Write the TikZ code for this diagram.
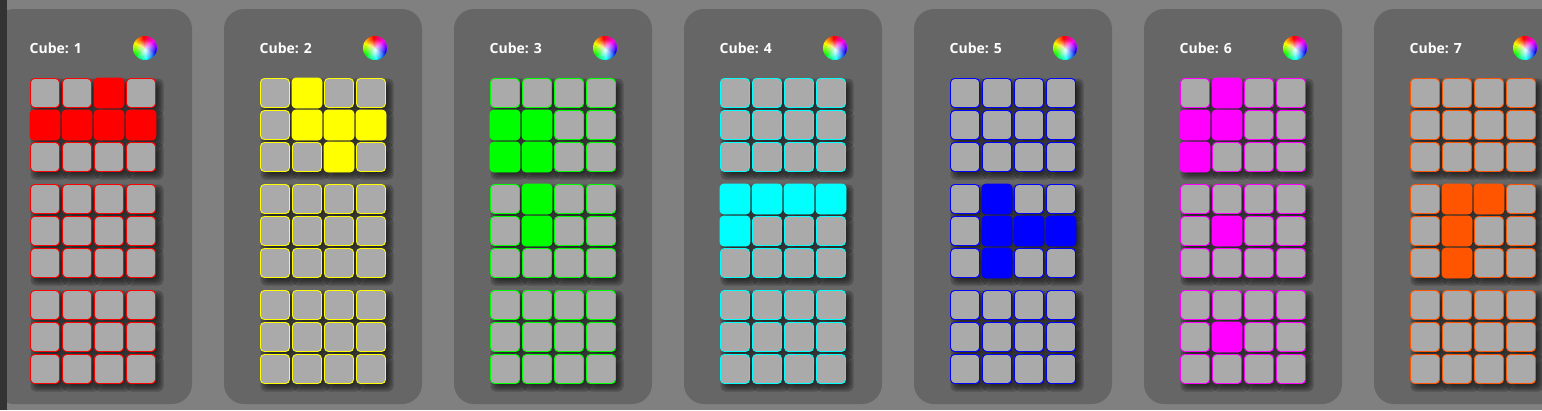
\documentclass[tikz,border=0pt]{standalone}
\usepackage{fontspec}
\setsansfont{Open Sans}
\usepackage{tikz}
\usetikzlibrary{fadings}
\definecolor{pagegray}{HTML}{808080}
\definecolor{panelgray}{HTML}{666666}
\definecolor{cellgray}{HTML}{AAAAAA}
\definecolor{stripgray}{HTML}{333333}
\definecolor{cubered}{HTML}{FF0000}
\definecolor{cubeyellow}{HTML}{FFFF00}
\definecolor{cubegreen}{HTML}{00FF00}
\definecolor{cubecyan}{HTML}{00FFFF}
\definecolor{cubeblue}{HTML}{0000FF}
\definecolor{cubemagenta}{HTML}{FF00FF}
\definecolor{cubeorange}{HTML}{FF5500}
\tikzfading[name=wheelfade, inner color=transparent!5, outer color=transparent!100]

\begin{document}
\begin{tikzpicture}[
  x=1pt, y=-1pt,
  panel/.style={fill=panelgray, rounded corners=20pt},
  cell/.style={draw=#1, fill=cellgray, line width=.9pt, rounded corners=4pt, minimum size=29pt, inner sep=0pt, outer sep=0pt},
  oncell/.style={cell=#1, fill=#1, minimum size=30pt},
  cubelabel/.style={text=white, font=\sffamily\bfseries\fontsize{14}{16}\selectfont, anchor=base west, inner sep=0pt},
]
\clip (0,0) rectangle (1542,410);
\fill[pagegray] (0,0) rectangle (1542,410);

% one panel per cube: number/colour/lit cells (row/column)
\foreach \cube/\cubecolor/\lit in {
  1/cubered/{1/3,2/1,2/2,2/3,2/4},
  2/cubeyellow/{1/2,2/2,2/3,2/4,3/3},
  3/cubegreen/{2/1,2/2,3/1,3/2,4/2,5/2},
  4/cubecyan/{4/1,4/2,4/3,4/4,5/1},
  5/cubeblue/{4/2,5/2,5/3,5/4,6/2},
  6/cubemagenta/{1/2,2/1,2/2,3/1,5/2,8/2},
  7/cubeorange/{4/2,4/3,5/2,6/2}} {
  \begin{scope}[xshift={(\cube-1)*230pt}]
    \fill[panel] (-6,9) rectangle (192,404);
    \node[cubelabel] (label\cube) at (29.5,53) {Cube: \cube};

    % colour wheel
    \foreach \a in {0,10,...,350} {
      \pgfmathsetmacro{\wheelhue}{mod(270-\a+360,360)/360}
      \definecolor{wheelcolor}{hsb}{\wheelhue,1,1}
      \fill[wheelcolor] (145,48) -- +(\a:12) arc[start angle=\a, delta angle=-11, radius=12] -- cycle;
    }
    \fill[white, path fading=wheelfade] (145,49.5) circle (10.5);

    % grey cells with their shadows
    \foreach \r in {1,...,9} {
      \pgfmathsetmacro{\celly}{93+(\r-1)*32+floor((\r-1)/3)*10}
      \foreach \c in {1,...,4} {
        \pgfmathsetmacro{\cellx}{45+(\c-1)*32}
        \foreach \k in {10.5,12.5,14.5,16.5,18.5}
          \fill[black, opacity=.2, rounded corners=5pt] (\cellx+4-\k,\celly+4-\k) rectangle (\cellx+4+\k,\celly+4+\k);
        \node[cell=\cubecolor] (cell-\cube-\r-\c) at (\cellx,\celly) {};
      }
    }

    % lit cells
    \foreach \r/\c in \lit {
      \pgfmathsetmacro{\celly}{93+(\r-1)*32+floor((\r-1)/3)*10}
      \pgfmathsetmacro{\cellx}{45+(\c-1)*32}
      \node[oncell=\cubecolor] (lit-\cube-\r-\c) at (\cellx,\celly) {};
    }
  \end{scope}
}
\fill[stripgray] (0,0) rectangle (7,410);
\end{tikzpicture}
\end{document}
